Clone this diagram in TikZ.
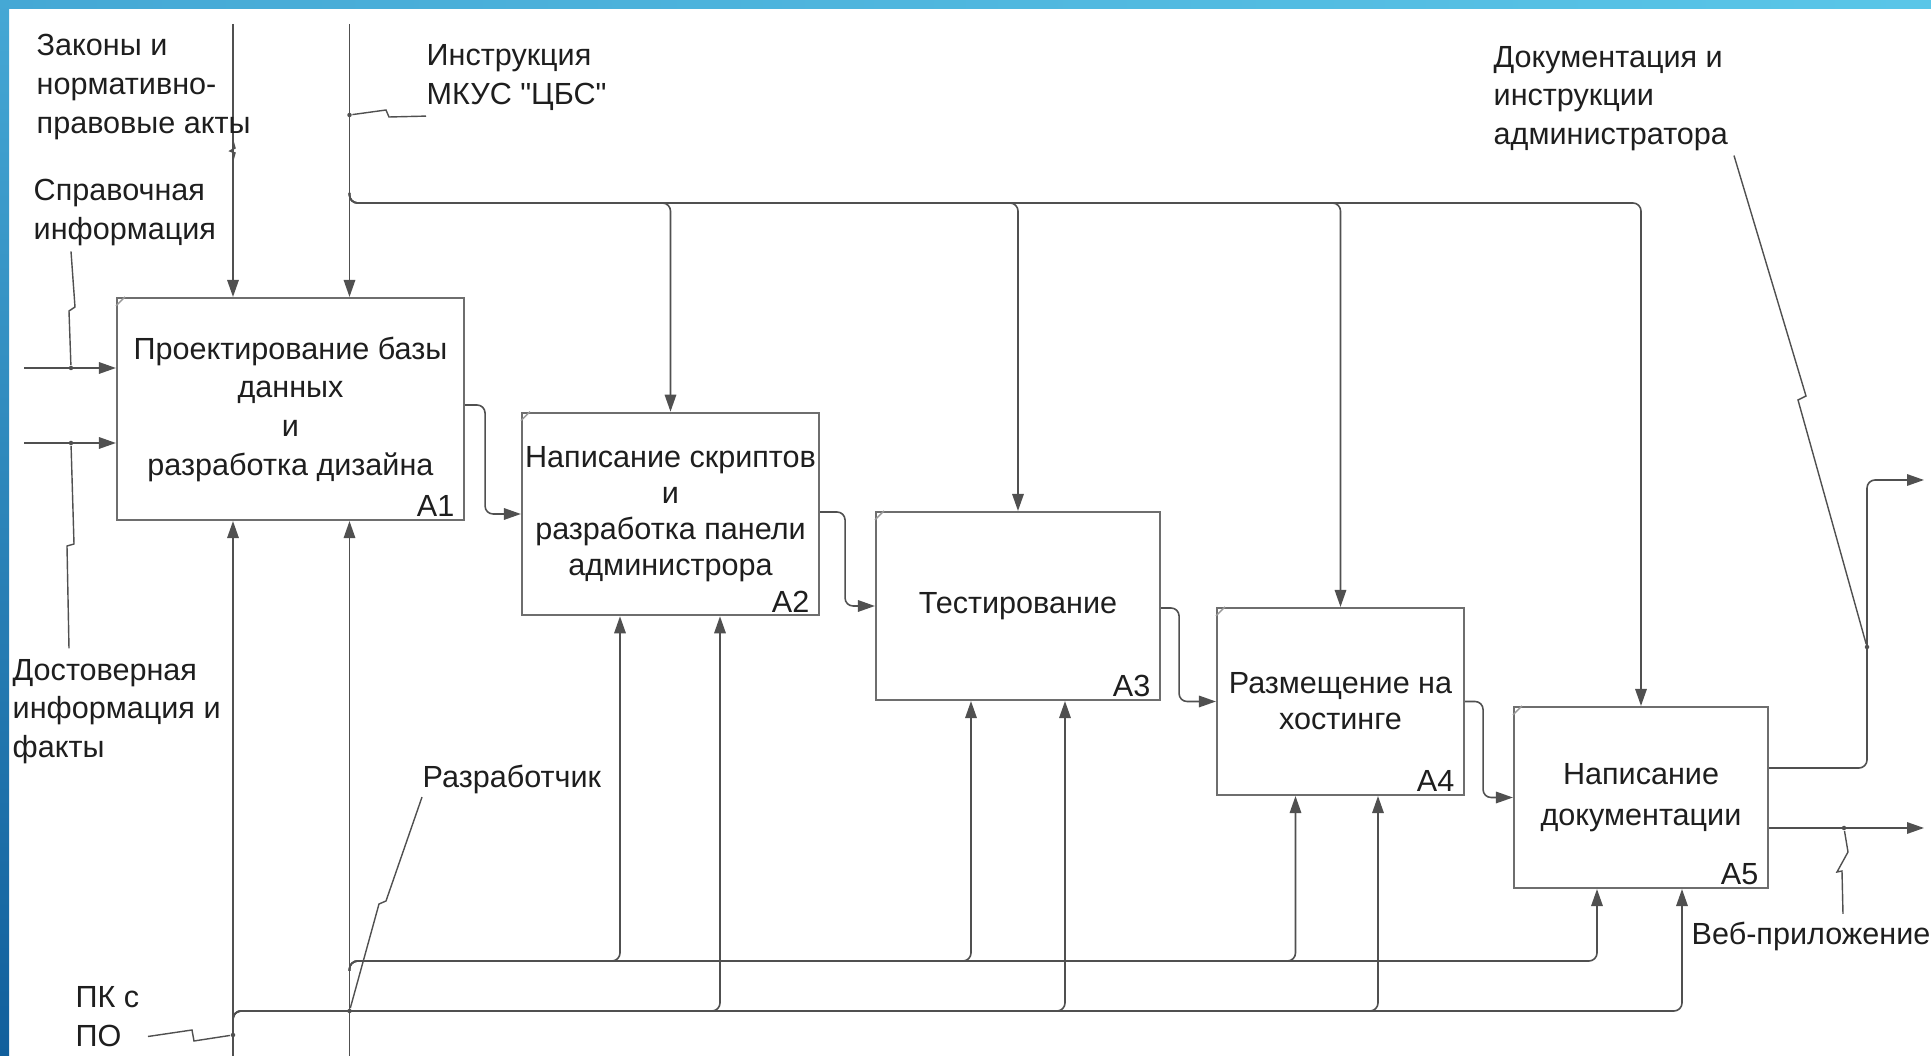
\documentclass[tikz,border=0pt]{standalone}
\usepackage{fontspec}
\newfontfamily\idef{Liberation Sans}
\usetikzlibrary{positioning, arrows.meta}

\definecolor{linegray}{HTML}{505050}
\definecolor{boxgray}{HTML}{6E6E6E}
\definecolor{txtgray}{HTML}{1E1E1E}
\definecolor{barlight}{HTML}{5AC6E8}
\definecolor{barmid}{HTML}{45A8D5}
\definecolor{bardark}{HTML}{115F9C}

\begin{document}
\begin{tikzpicture}[
    x=0.1mm, y=-0.1mm,
    font=\idef\fontsize{8.7}{11}\selectfont,
    text=txtgray,
    func/.style = {draw=boxgray, line width=0.6pt, fill=white, inner sep=0pt, align=center},
    num/.style = {anchor=south east, inner sep=0pt},
    lbl/.style = {anchor=west, align=left, inner sep=0pt, yshift=-0.3mm},
    arr/.style = {draw=linegray, line width=0.45pt, rounded corners=0.8mm, -{Triangle[length=1.7mm, width=1.15mm]}},
    squig/.style = {draw=linegray, line width=0.4pt},
    jdot/.style = {circle, fill=linegray, inner sep=0pt, minimum size=0.45mm},
    tick/.style = {draw=boxgray!70, line width=0.4pt}
]

\useasboundingbox (0,0) rectangle (1931,1056);
\shade[left color=barmid, right color=barlight] (0,0) rectangle (1931,9);
\shade[top color=barmid, bottom color=bardark] (0,0) rectangle (9,1056);

% functions
\node[func, minimum width=34.7mm, minimum height=22.2mm] (A1) at (290.5,409) {Проектирование базы\\данных\\и\\разработка дизайна};
\node[func, minimum width=29.7mm, minimum height=20.25mm, font=\idef\fontsize{8.7}{10.3}\selectfont] (A2) at (670.5,514) {Написание скриптов\\и\\разработка панели\\администрора};
\node[func, minimum width=28.4mm, minimum height=18.8mm] (A3) at (1018,606) {Тестирование};
\node[func, minimum width=24.7mm, minimum height=18.7mm, font=\idef\fontsize{8.7}{10.2}\selectfont] (A4) at (1340.5,701.5) {Размещение на\\хостинге};
\node[func, minimum width=25.4mm, minimum height=18.1mm, font=\idef\fontsize{8.7}{11.5}\selectfont] (A5) at (1641,797.5) {Написание\\документации};

\node[num] (n1) at ([xshift=-1mm, yshift=0.35mm]A1.south east) {A1};
\node[num] (n2) at ([xshift=-1mm, yshift=0.35mm]A2.south east) {A2};
\node[num] (n3) at ([xshift=-1mm, yshift=0.35mm]A3.south east) {A3};
\node[num] (n4) at ([xshift=-1mm, yshift=0.35mm]A4.south east) {A4};
\node[num] (n5) at ([xshift=-1mm, yshift=0.35mm]A5.south east) {A5};

\draw[tick] ([yshift=-0.9mm]A1.north west) -- ([xshift=0.9mm]A1.north west);
\draw[tick] ([yshift=-0.9mm]A2.north west) -- ([xshift=0.9mm]A2.north west);
\draw[tick] ([yshift=-0.9mm]A3.north west) -- ([xshift=0.9mm]A3.north west);
\draw[tick] ([yshift=-0.9mm]A4.north west) -- ([xshift=0.9mm]A4.north west);
\draw[tick] ([yshift=-0.9mm]A5.north west) -- ([xshift=0.9mm]A5.north west);

% border ends
\coordinate (c1) at (233,24);
\coordinate (c2) at (349.5,24);
\coordinate (i1) at (24,368);
\coordinate (i2) at (24,443);
\coordinate (m1) at (233,1056);
\coordinate (m2) at (349.5,1056);
\coordinate (o1) at (1924,480);
\coordinate (o2) at (1924,828);
\coordinate (cbus) at (0,203);
\coordinate (mbusA) at (0,961);
\coordinate (mbusB) at (0,1011);
\coordinate (cfork) at (349.5,193);
\coordinate (mforkA) at (349.5,971);
\coordinate (mforkB) at (233,1021);

% controls
\draw[arr] (c1) -- (c1 |- A1.north);
\draw[arr] (c2) -- (c2 |- A1.north);
\draw[arr] (cfork) |- (A2.north |- cbus) -- (A2.north);
\draw[arr] (cfork) |- (A3.north |- cbus) -- (A3.north);
\draw[arr] (cfork) |- (A4.north |- cbus) -- (A4.north);
\draw[arr] (cfork) |- (A5.north |- cbus) -- (A5.north);

% inputs
\draw[arr] (i1) -- (i1 -| A1.west);
\draw[arr] (i2) -- (i2 -| A1.west);

% mechanisms
\draw[arr] (m1) -- (m1 |- A1.south);
\draw[arr] (m2) -- (m2 |- A1.south);
\draw[arr] (mforkA) |- ([xshift=-5.05mm]A2.south |- mbusA) -- ([xshift=-5.05mm]A2.south);
\draw[arr] (mforkA) |- ([xshift=-4.7mm]A3.south |- mbusA) -- ([xshift=-4.7mm]A3.south);
\draw[arr] (mforkA) |- ([xshift=-4.5mm]A4.south |- mbusA) -- ([xshift=-4.5mm]A4.south);
\draw[arr] (mforkA) |- ([xshift=-4.4mm]A5.south |- mbusA) -- ([xshift=-4.4mm]A5.south);
\draw[arr] (mforkB) |- ([xshift=4.95mm]A2.south |- mbusB) -- ([xshift=4.95mm]A2.south);
\draw[arr] (mforkB) |- ([xshift=4.7mm]A3.south |- mbusB) -- ([xshift=4.7mm]A3.south);
\draw[arr] (mforkB) |- ([xshift=3.75mm]A4.south |- mbusB) -- ([xshift=3.75mm]A4.south);
\draw[arr] (mforkB) |- ([xshift=4.1mm]A5.south |- mbusB) -- ([xshift=4.1mm]A5.south);

% flow
\draw[arr] ([yshift=0.4mm]A1.east) -- ++(20,0) |- (A2.west);
\draw[arr] ([yshift=0.2mm]A2.east) -- ++(25,0) |- (A3.west);
\draw[arr] ([yshift=-0.2mm]A3.east) -- ++(18,0) |- (A4.west);
\draw[arr] (A4.east) -- ++(18,0) |- (A5.west);

% outputs
\draw[arr] ([yshift=2.95mm]A5.east) -| ([xshift=-5.7mm]o1) -- (o1);
\draw[arr] (o2 -| A5.east) -- (o2);

% labels
\node[lbl] (lZak) at (36,84) {Законы и\\нормативно-\\правовые акты};
\node[lbl] (lIns) at (426,74.5) {Инструкция\\МКУС "ЦБС"};
\node[lbl] (lSpr) at (33,209.5) {Справочная\\информация};
\node[lbl] (lDos) at (12,708.5) {Достоверная\\информация и\\факты};
\node[lbl] (lRaz) at (422,776) {Разработчик};
\node[lbl] (lPK) at (75,1013.5) {ПК с\\ПО};
\node[lbl] (lDoc) at (1493,95.5) {Документация и\\инструкции\\администратора};
\node[lbl] (lWeb) at (1691,933) {Веб-приложение};

\node[jdot] (dIns) at (349.5,115) {};
\node[jdot] (dSpr) at (71,368) {};
\node[jdot] (dDos) at (71,443) {};
\node[jdot] (dRaz) at (349.5,1011) {};
\node[jdot] (dPK) at (233,1035) {};
\node[jdot] (dDoc) at (1867,647) {};
\node[jdot] (dWeb) at (1844,828) {};

% label squiggles
\draw[squig] (233,141) -- (235,148) -- (230,151) -- (235,153) -- (233,160);
\draw[squig] (dIns) -- (386,110) -- (389,117) -- ([yshift=-0.5mm]lIns.south west);
\draw[squig] ([xshift=3.8mm, yshift=-0.5mm]lSpr.south west) -- (75,307) -- (69,311) -- (dSpr);
\draw[squig] (dDos) -- (74,544) -- (67,546) -- ([xshift=5.7mm, yshift=1mm]lDos.north west);
\draw[squig] ([yshift=-0.3mm]lRaz.south west) -- (386,901) -- (379,904) -- (dRaz);
\draw[squig] ([xshift=0.8mm, yshift=-2mm]lPK.east) -- (192,1030) -- (194,1041) -- (dPK);
\draw[squig] ([xshift=24.1mm, yshift=-0.4mm]lDoc.south west) -- (1806,396) -- (1798,400) -- (dDoc);
\draw[squig] (dWeb) -- (1848,852) -- (1837,872) -- (1842,871) -- ([xshift=15.2mm, yshift=0.7mm]lWeb.north west);

\end{tikzpicture}
\end{document}
